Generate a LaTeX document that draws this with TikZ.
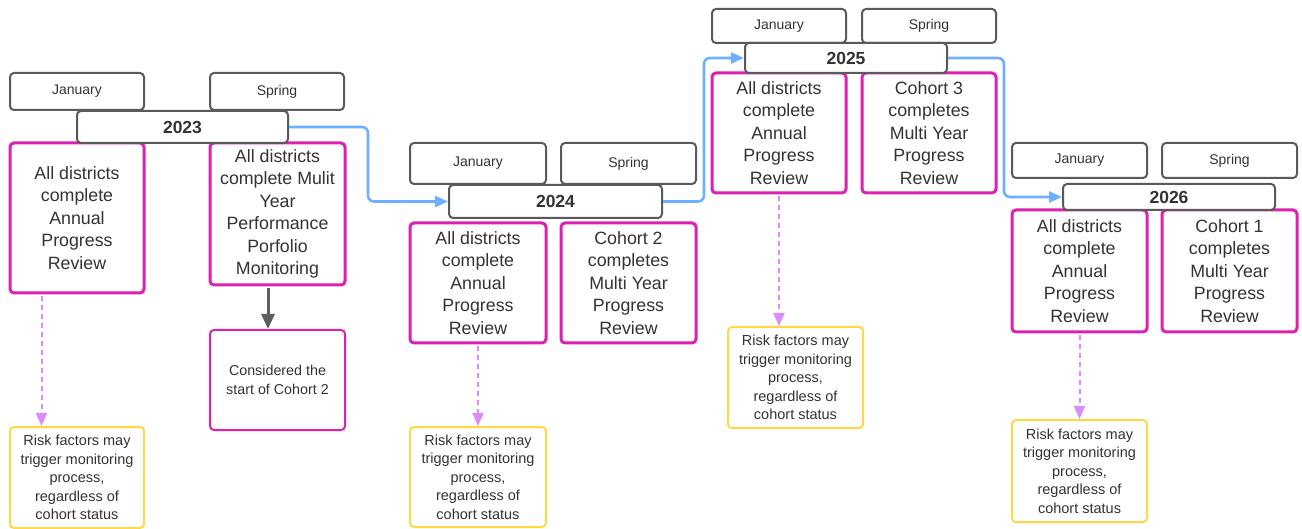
\documentclass[tikz,border=0pt]{standalone}
\usepackage{fontspec}
\setmainfont{Liberation Sans}
\usetikzlibrary{arrows.meta,calc}
\definecolor{boxgray}{RGB}{90,90,90}
\definecolor{txt}{RGB}{51,51,51}
\definecolor{pinkb}{RGB}{222,32,176}
\definecolor{yellowb}{RGB}{255,216,70}
\definecolor{bluel}{RGB}{110,175,255}
\definecolor{violet}{RGB}{218,140,255}
\definecolor{arrowgray}{RGB}{95,95,95}
\tikzset{
  base/.style={rectangle, rounded corners=4pt, fill=white, text=txt, align=center, inner sep=0pt},
  month/.style={base, draw=boxgray, line width=2pt, font=\fontsize{14}{17}\selectfont},
  yearbox/.style={base, draw=boxgray, line width=2pt, font=\fontsize{17.5}{21}\selectfont\bfseries},
  event/.style={base, draw=pinkb, line width=3pt, font=\fontsize{17.8}{22.5}\selectfont},
  note/.style={base, draw=pinkb, line width=2pt, font=\fontsize{14.3}{18.5}\selectfont},
  risk/.style={base, draw=yellowb, line width=2pt, font=\fontsize{14.5}{18.5}\selectfont},
  flow/.style={draw=bluel, line width=2.6pt, rounded corners=6pt, -{Triangle[length=13pt,width=11pt]}},
  riskarrow/.style={draw=violet, line width=2pt, dash pattern=on 5pt off 4pt, -{Triangle[length=13pt,width=11pt]}},
  grayarrow/.style={draw=arrowgray, line width=3pt, -{Triangle[length=15pt,width=13pt]}},
}
\begin{document}
\begin{tikzpicture}[x=1pt,y=-1pt]
\useasboundingbox (0,0) rectangle (1302,529);
% ---- 2023
\node[month, minimum width=134, minimum height=37] (j23) at (77,91.5) {January};
\node[month, minimum width=134, minimum height=37] (s23) at (277,91.5) {Spring};
\node[event, minimum width=134, minimum height=150] (p23a) at (77,218) {All districts\\complete\\Annual\\Progress\\Review};
\node[event, minimum width=135, minimum height=142] (p23b) at (277.5,214) {All districts\\complete Mulit\\Year\\Performance\\Porfolio\\Monitoring};
\node[yearbox, minimum width=211, minimum height=32] (y23) at (182.5,127) {2023};
\node[note, minimum width=135, minimum height=100] (c23) at (277.5,380) {Considered the\\start of Cohort 2};
\node[risk, minimum width=134, minimum height=101] (r23) at (77,477.5) {Risk factors may\\trigger monitoring\\process,\\regardless of\\cohort status};
% ---- 2024
\node[month, minimum width=136, minimum height=41] (j24) at (478,163.5) {January};
\node[month, minimum width=135, minimum height=41] (s24) at (628.5,163.5) {Spring};
\node[event, minimum width=136, minimum height=120] (p24a) at (478,283) {All districts\\complete\\Annual\\Progress\\Review};
\node[event, minimum width=135, minimum height=120] (p24b) at (628.5,283) {Cohort 2\\completes\\Multi Year\\Progress\\Review};
\node[yearbox, minimum width=213, minimum height=33] (y24) at (555.5,201.5) {2024};
\node[risk, minimum width=136, minimum height=100] (r24) at (478,477) {Risk factors may\\trigger monitoring\\process,\\regardless of\\cohort status};
% ---- 2025
\node[month, minimum width=134, minimum height=34] (j25) at (779,26) {January};
\node[month, minimum width=134, minimum height=34] (s25) at (929,26) {Spring};
\node[event, minimum width=134, minimum height=120] (p25a) at (779,133) {All districts\\complete\\Annual\\Progress\\Review};
\node[event, minimum width=134, minimum height=120] (p25b) at (929,133) {Cohort 3\\completes\\Multi Year\\Progress\\Review};
\node[yearbox, minimum width=202, minimum height=30] (y25) at (846,58) {2025};
\node[risk, minimum width=135, minimum height=101] (r25) at (795.5,377.5) {Risk factors may\\trigger monitoring\\process,\\regardless of\\cohort status};
% ---- 2026
\node[month, minimum width=135, minimum height=35] (j26) at (1079.5,160.5) {January};
\node[month, minimum width=135, minimum height=35] (s26) at (1229.5,160.5) {Spring};
\node[event, minimum width=135, minimum height=122] (p26a) at (1079.5,271) {All districts\\complete\\Annual\\Progress\\Review};
\node[event, minimum width=135, minimum height=122] (p26b) at (1229.5,271) {Cohort 1\\completes\\Multi Year\\Progress\\Review};
\node[yearbox, minimum width=212, minimum height=26] (y26) at (1169,197) {2026};
\node[risk, minimum width=135, minimum height=102] (r26) at (1079.5,471) {Risk factors may\\trigger monitoring\\process,\\regardless of\\cohort status};
% ---- connectors
\draw[flow] (y23.east) -- ++(79,0) |- (y24.west);
\draw[flow] (y24.east) -- ++(41,0) |- (y25.west);
\draw[flow] (y25.east) -- ++(56,0) |- (y26.west);
\coordinate (g1) at ($(p23b.south)+(-9.5,1.5)$);
\draw[grayarrow] (g1) -- (g1 |- c23.north);
\coordinate (d1) at ($(p23a.south west)+(33,1.5)$);
\draw[riskarrow] (d1) -- (d1 |- r23.north);
\draw[riskarrow] ($(p24a.south)+(0,1.5)$) -- (r24.north);
\coordinate (d3) at ($(p25a.south)+(0,1.5)$);
\draw[riskarrow] (d3) -- (d3 |- r25.north);
\draw[riskarrow] ($(p26a.south)+(0,1.5)$) -- (r26.north);
\end{tikzpicture}
\end{document}
